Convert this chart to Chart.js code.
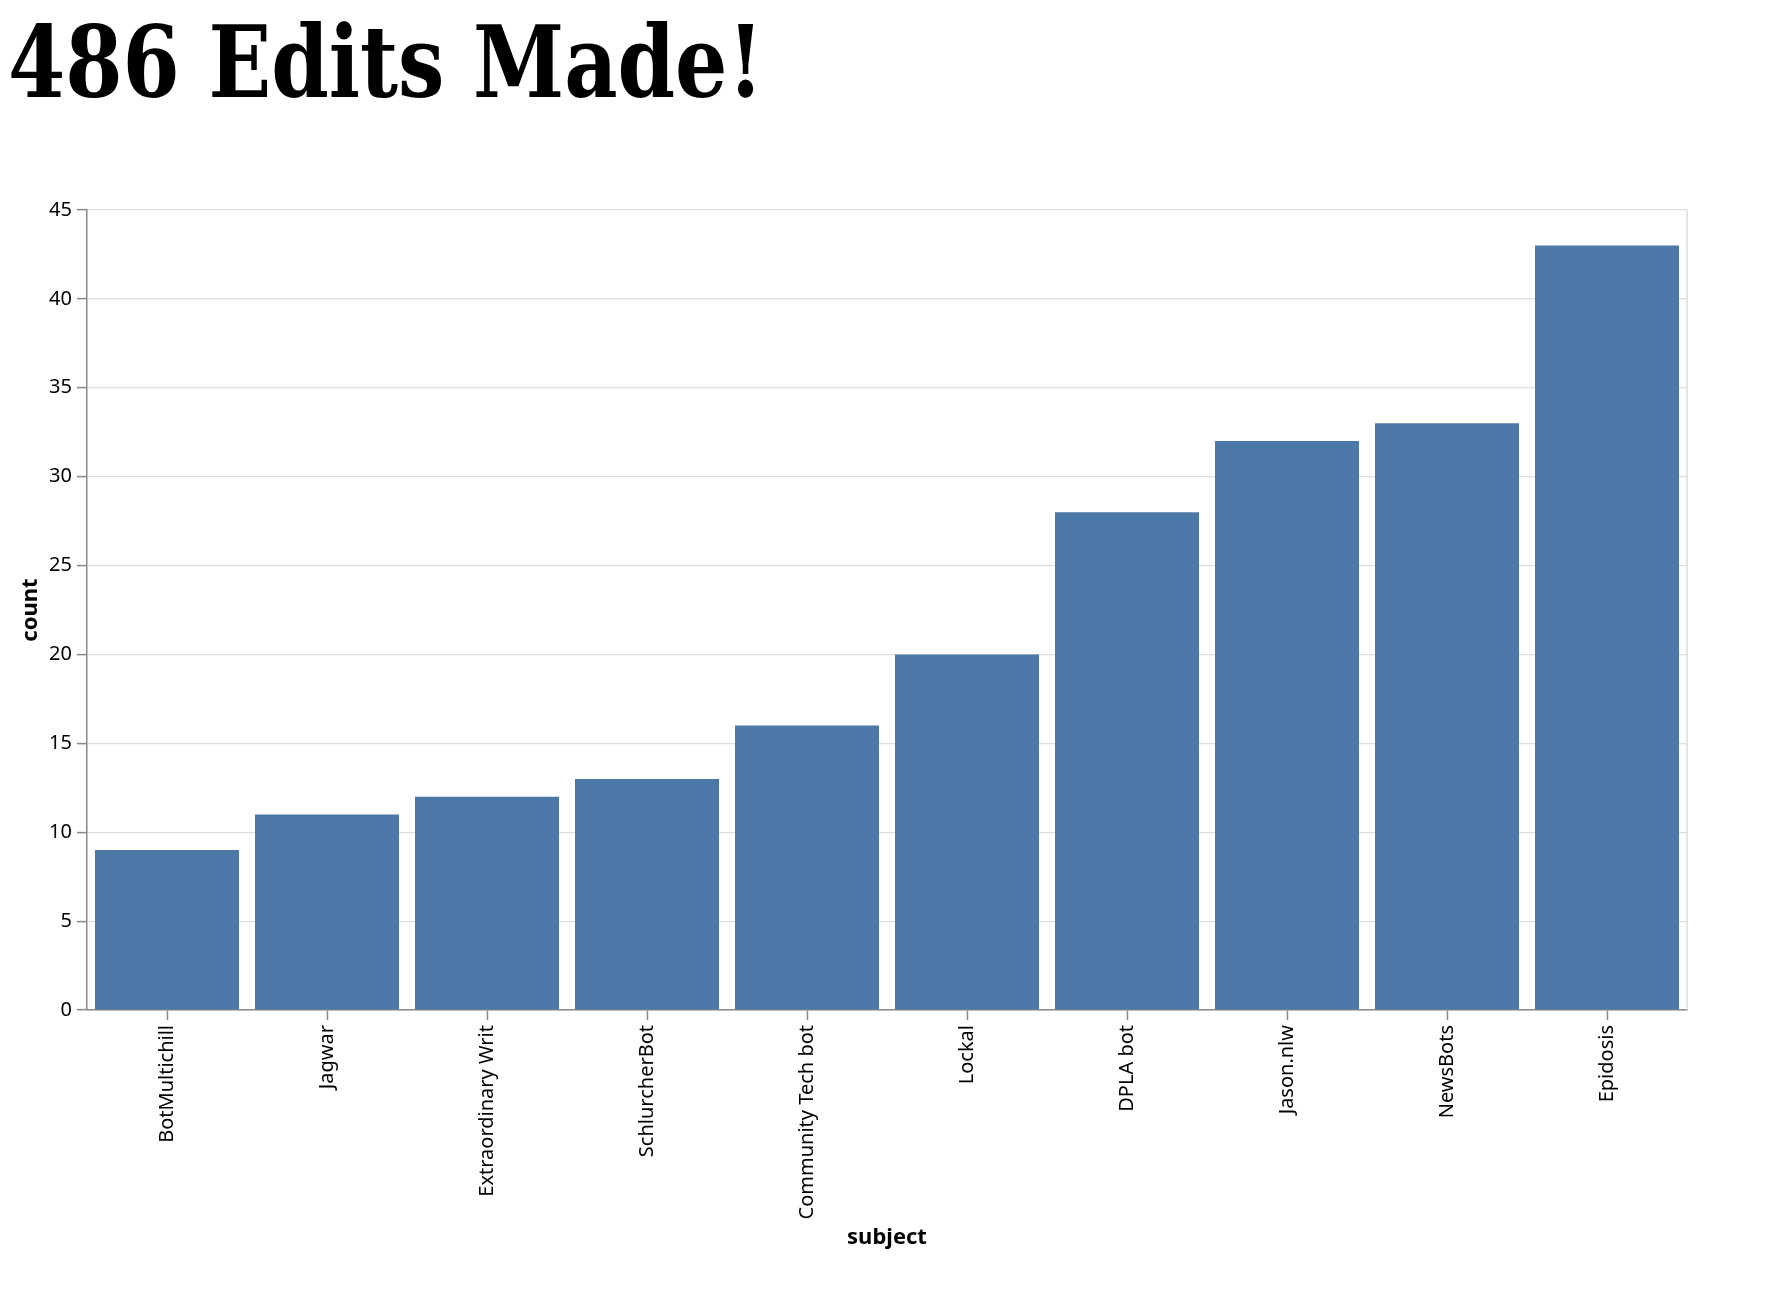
<!DOCTYPE html>
<html>
<head>
<meta charset="utf-8">
<script src="https://cdn.jsdelivr.net/npm/chart.js@4/dist/chart.umd.min.js"></script>
<style>
  html, body { margin: 0; padding: 0; background: #fff; }
  #wrap { position: relative; width: 1766px; height: 1296px; }
  #title {
    position: absolute; left: 8px; top: 0px;
    font-family: 'DejaVu Serif Condensed', 'DejaVu Serif', serif;
    font-stretch: condensed;
    font-weight: bold; font-size: 100px; line-height: 125px;
    color: #000; white-space: nowrap;
    transform: scaleX(0.915); transform-origin: left top;
  }
  #chart { position: absolute; left: 0; top: 0; }
</style>
</head>
<body>
<div id="wrap">
  <canvas id="chart" width="1766" height="1296"></canvas>
  <div id="title">486 Edits Made!</div>
</div>
<script>
const subjects = ["BotMultichill", "Jagwar", "Extraordinary Writ", "SchlurcherBot", "Community Tech bot",
                  "Lockal", "DPLA bot", "Jason.nlw", "NewsBots", "Epidosis"]
const counts = [9, 11, 12, 13, 16, 20, 28, 32, 33, 43]
const yMax = 45
const yStep = 5

// right edge of the plot frame
const frameRight = {
    id: 'frameRight',
    afterDraw(chart) {
        const a = chart.chartArea
        const ctx = chart.ctx
        ctx.save()
        ctx.strokeStyle = '#dddddd'
        ctx.lineWidth = 1.5
        ctx.beginPath()
        ctx.moveTo(a.right, a.top)
        ctx.lineTo(a.right, a.bottom)
        ctx.stroke()
        ctx.restore()
    }
}

const tickFont = { family: "'Noto Sans', sans-serif", size: 20 }
const titleFont = { family: "'Noto Sans', sans-serif", size: 22, weight: 'bold' }

new Chart(document.getElementById("chart"), {
    type: 'bar',
    data: {
        labels: subjects,
        datasets: [{
            label: 'count',
            data: counts,
            backgroundColor: '#4c78a8',
            categoryPercentage: 0.9,
            barPercentage: 1.0
        }]
    },
    options: {
        responsive: false,
        animation: false,
        layout: { padding: { top: 210, left: 14, right: 79, bottom: 41 } },
        plugins: { legend: { display: false }, tooltip: { enabled: false } },
        scales: {
            x: {
                offset: true,
                afterFit(scale) { scale.height = 245 },
                grid: { drawOnChartArea: false, offset: false, tickLength: 10, tickColor: '#888', tickWidth: 1.5 },
                border: { color: '#888', width: 1.5 },
                ticks: { color: '#000', font: tickFont, maxRotation: 90, minRotation: 90, padding: 5, autoSkip: false },
                title: { display: true, text: 'subject', color: '#000', font: titleFont }
            },
            y: {
                min: 0, max: yMax,
                afterFit(scale) { scale.width = 73 },
                grid: { color: '#dddddd', lineWidth: 1.2, tickLength: 10, tickColor: '#888', tickWidth: 1.5 },
                border: { color: '#888', width: 1.5 },
                ticks: { stepSize: yStep, color: '#000', font: tickFont, padding: 5 },
                title: { display: true, text: 'count', color: '#000', font: titleFont }
            }
        }
    },
    plugins: [frameRight]
});
</script>
</body>
</html>
